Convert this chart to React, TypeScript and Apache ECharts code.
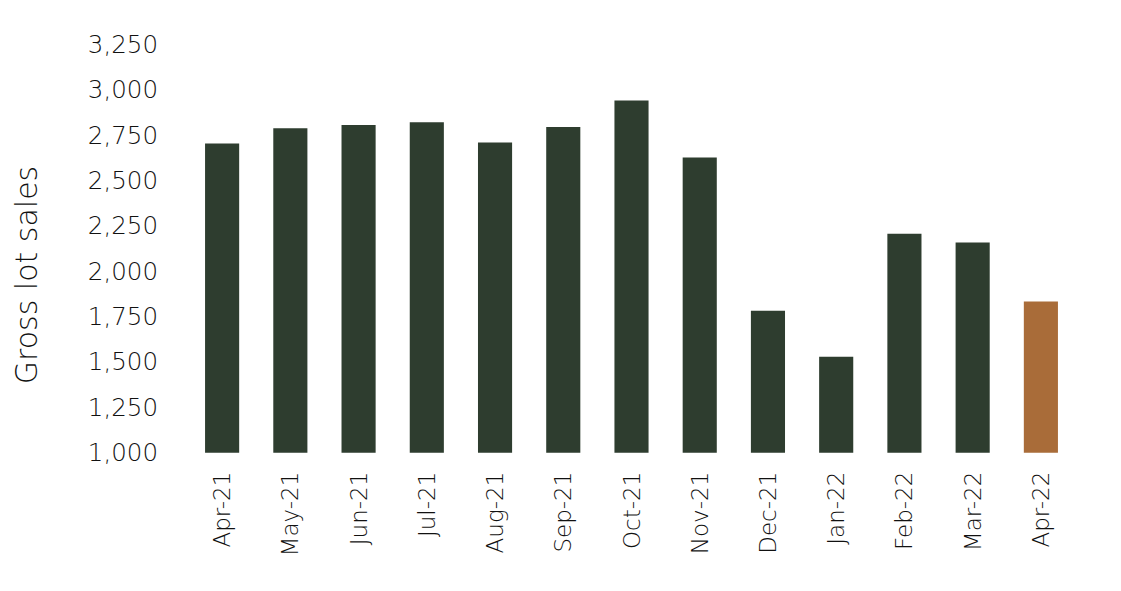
import React, { useEffect, useRef } from "react";
import * as echarts from "echarts";

const categories = ["Apr-21", "May-21", "Jun-21", "Jul-21", "Aug-21", "Sep-21", "Oct-21", "Nov-21", "Dec-21", "Jan-22", "Feb-22", "Mar-22", "Apr-22"];
const grossLotSales = [2705, 2788, 2806, 2822, 2710, 2795, 2942, 2627, 1783, 1529, 2207, 2159, 1833];
const highlightIndex = 12;
const yAxisTitle = "Gross lot sales";

const DARK = "#2e3d2f";
const ORANGE = "#a96c39";
const FONT = "'DejaVu Sans', 'Liberation Sans', sans-serif";

export default function App() {
  const ref = useRef<HTMLDivElement>(null);
  useEffect(() => {
    if (!ref.current) return;
    const chart = echarts.init(ref.current, null, { renderer: "svg" });
    chart.setOption({
      animation: false,
      backgroundColor: "#ffffff",
      grid: { left: 188, right: 46, top: 44.5, bottom: 138.3 },
      graphic: [
        {
          type: "text",
          x: 26,
          y: 275,
          rotation: Math.PI / 2,
          style: {
            text: yAxisTitle,
            align: "center",
            verticalAlign: "middle",
            fill: "#111111",
            fontSize: 30,
            fontFamily: FONT,
            fontWeight: 200,
          },
        },
      ],
      xAxis: {
        type: "category",
        data: categories,
        axisLine: { show: false },
        axisTick: { show: false },
        axisLabel: {
          rotate: 90,
          margin: 19,
          color: "#111111",
          fontSize: 23,
          fontFamily: FONT,
          fontWeight: 200,
        },
      },
      yAxis: {
        type: "value",
        min: 1000,
        max: 3250,
        interval: 250,
        splitLine: { show: false },
        axisLine: { show: false },
        axisTick: { show: false },
        axisLabel: {
          margin: 30,
          color: "#111111",
          fontSize: 24.5,
          fontFamily: FONT,
          fontWeight: 200,
          formatter: (v: number) => v.toLocaleString("en-US"),
        },
      },
      series: [
        {
          type: "bar",
          barWidth: "50%",
          data: grossLotSales.map((v, i) => ({
            value: v,
            itemStyle: { color: i === highlightIndex ? ORANGE : DARK },
          })),
        },
      ],
    });
    return () => chart.dispose();
  }, []);
  return (
    <div
      ref={ref}
      style={{ position: "fixed", left: 0, top: 0, width: 1121, height: 591 }}
    />
  );
}
